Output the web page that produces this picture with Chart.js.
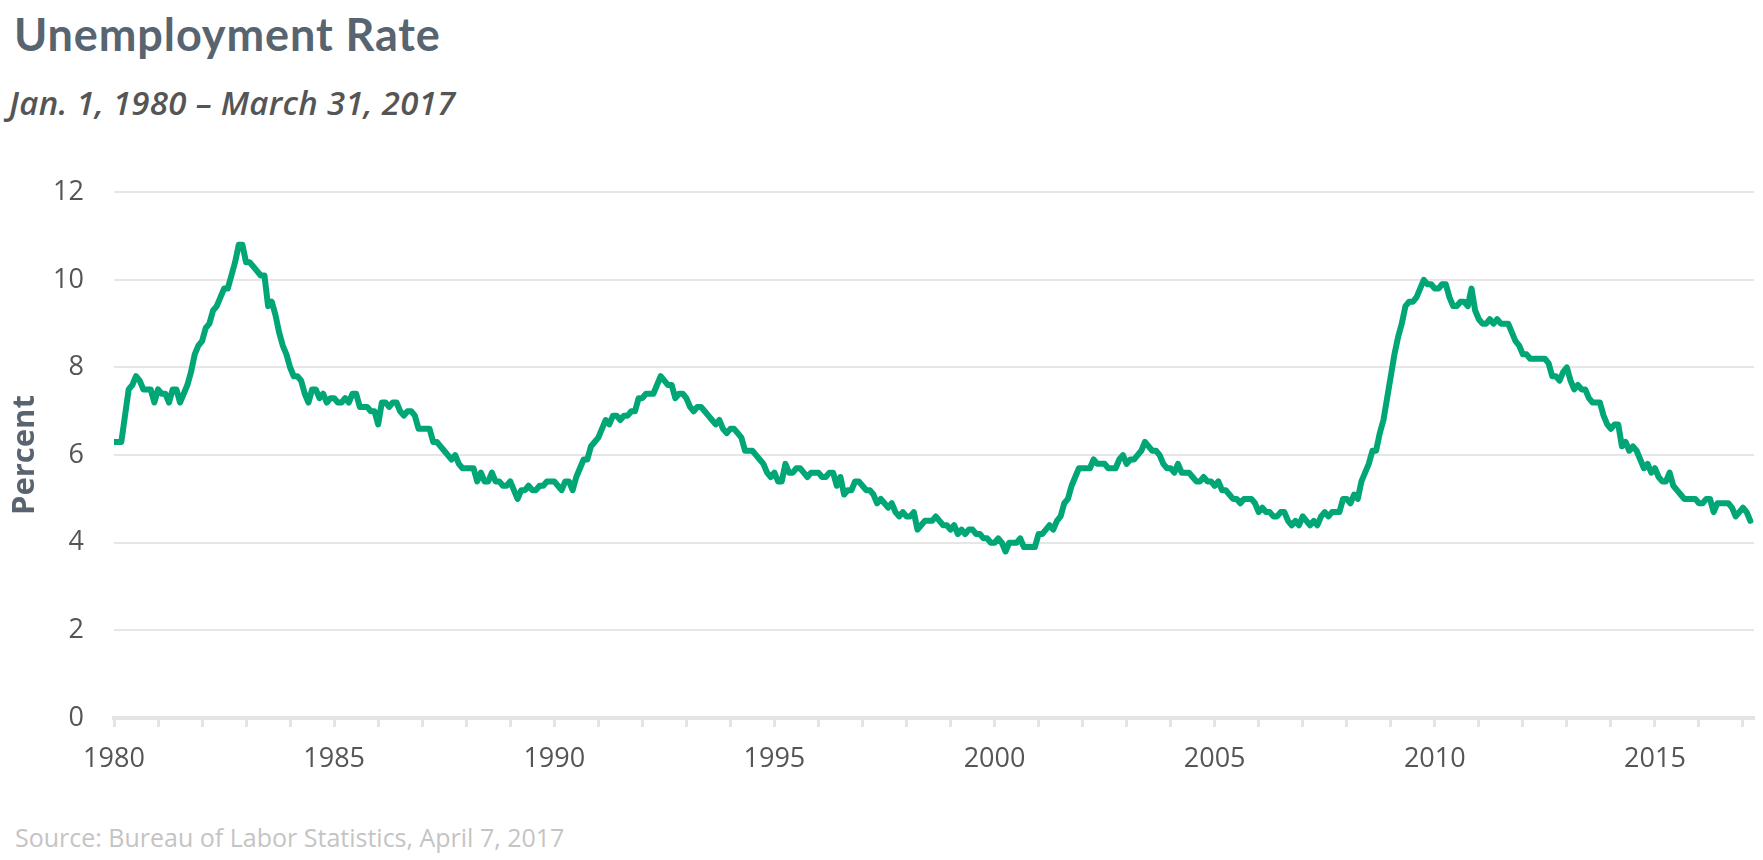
<!DOCTYPE html>
<html lang="en">
<head>
  <meta charset="UTF-8" />
  <title>Unemployment Rate</title>
  <script src="https://cdn.jsdelivr.net/npm/chart.js"></script>
  <style>
    * { margin: 0; padding: 0; box-sizing: border-box; }
    html, body { width: 1763px; height: 860px; background: #fff; overflow: hidden; }
    .title {
      position: absolute; left: 14px; top: 12px;
      font: bold 45px/1 'Lato', sans-serif; color: #58646f;
      letter-spacing: 0.9px; white-space: nowrap;
    }
    .subtitle {
      position: absolute; left: 9px; top: 86px;
      font: italic 600 33px/1 'Open Sans', sans-serif; color: #555;
      letter-spacing: 0.3px; white-space: nowrap;
    }
    .source {
      position: absolute; left: 15px; top: 825px;
      font: 25px/1 'Open Sans', sans-serif; color: #c4c4c4;
      white-space: nowrap;
    }
    .chart-box { position: absolute; left: 0; top: 146px; width: 1763px; height: 654px; }
  </style>
</head>
<body>
  <div class="title">Unemployment Rate</div>
  <div class="subtitle">Jan. 1, 1980 – March 31, 2017</div>
  <div class="chart-box"><canvas id="unrate"></canvas></div>
  <div class="source">Source: Bureau of Labor Statistics, April 7, 2017</div>

<script>
// monthly unemployment rate (%), Jan 1980 onward
const firstYear = 1980;
const rate1980s = [
  6.3, 6.3, 6.3, 6.9, 7.5, 7.6, 7.8, 7.7, 7.5, 7.5, 7.5, 7.2,
  7.5, 7.4, 7.4, 7.2, 7.5, 7.5, 7.2, 7.4, 7.6, 7.9, 8.3, 8.5,
  8.6, 8.9, 9.0, 9.3, 9.4, 9.6, 9.8, 9.8, 10.1, 10.4, 10.8, 10.8,
  10.4, 10.4, 10.3, 10.2, 10.1, 10.1, 9.4, 9.5, 9.2, 8.8, 8.5, 8.3,
  8.0, 7.8, 7.8, 7.7, 7.4, 7.2, 7.5, 7.5, 7.3, 7.4, 7.2, 7.3,
  7.3, 7.2, 7.2, 7.3, 7.2, 7.4, 7.4, 7.1, 7.1, 7.1, 7.0, 7.0,
  6.7, 7.2, 7.2, 7.1, 7.2, 7.2, 7.0, 6.9, 7.0, 7.0, 6.9, 6.6,
  6.6, 6.6, 6.6, 6.3, 6.3, 6.2, 6.1, 6.0, 5.9, 6.0, 5.8, 5.7,
  5.7, 5.7, 5.7, 5.4, 5.6, 5.4, 5.4, 5.6, 5.4, 5.4, 5.3, 5.3,
  5.4, 5.2, 5.0, 5.2, 5.2, 5.3, 5.2, 5.2, 5.3, 5.3, 5.4, 5.4
];
const rate1990s = [
  5.4, 5.3, 5.2, 5.4, 5.4, 5.2, 5.5, 5.7, 5.9, 5.9, 6.2, 6.3,
  6.4, 6.6, 6.8, 6.7, 6.9, 6.9, 6.8, 6.9, 6.9, 7.0, 7.0, 7.3,
  7.3, 7.4, 7.4, 7.4, 7.6, 7.8, 7.7, 7.6, 7.6, 7.3, 7.4, 7.4,
  7.3, 7.1, 7.0, 7.1, 7.1, 7.0, 6.9, 6.8, 6.7, 6.8, 6.6, 6.5,
  6.6, 6.6, 6.5, 6.4, 6.1, 6.1, 6.1, 6.0, 5.9, 5.8, 5.6, 5.5,
  5.6, 5.4, 5.4, 5.8, 5.6, 5.6, 5.7, 5.7, 5.6, 5.5, 5.6, 5.6,
  5.6, 5.5, 5.5, 5.6, 5.6, 5.3, 5.5, 5.1, 5.2, 5.2, 5.4, 5.4,
  5.3, 5.2, 5.2, 5.1, 4.9, 5.0, 4.9, 4.8, 4.9, 4.7, 4.6, 4.7,
  4.6, 4.6, 4.7, 4.3, 4.4, 4.5, 4.5, 4.5, 4.6, 4.5, 4.4, 4.4,
  4.3, 4.4, 4.2, 4.3, 4.2, 4.3, 4.3, 4.2, 4.2, 4.1, 4.1, 4.0
];
const rate2000s = [
  4.0, 4.1, 4.0, 3.8, 4.0, 4.0, 4.0, 4.1, 3.9, 3.9, 3.9, 3.9,
  4.2, 4.2, 4.3, 4.4, 4.3, 4.5, 4.6, 4.9, 5.0, 5.3, 5.5, 5.7,
  5.7, 5.7, 5.7, 5.9, 5.8, 5.8, 5.8, 5.7, 5.7, 5.7, 5.9, 6.0,
  5.8, 5.9, 5.9, 6.0, 6.1, 6.3, 6.2, 6.1, 6.1, 6.0, 5.8, 5.7,
  5.7, 5.6, 5.8, 5.6, 5.6, 5.6, 5.5, 5.4, 5.4, 5.5, 5.4, 5.4,
  5.3, 5.4, 5.2, 5.2, 5.1, 5.0, 5.0, 4.9, 5.0, 5.0, 5.0, 4.9,
  4.7, 4.8, 4.7, 4.7, 4.6, 4.6, 4.7, 4.7, 4.5, 4.4, 4.5, 4.4,
  4.6, 4.5, 4.4, 4.5, 4.4, 4.6, 4.7, 4.6, 4.7, 4.7, 4.7, 5.0,
  5.0, 4.9, 5.1, 5.0, 5.4, 5.6, 5.8, 6.1, 6.1, 6.5, 6.8, 7.3,
  7.8, 8.3, 8.7, 9.0, 9.4, 9.5, 9.5, 9.6, 9.8, 10.0, 9.9, 9.9
];
const rate2010s = [
  9.8, 9.8, 9.9, 9.9, 9.6, 9.4, 9.4, 9.5, 9.5, 9.4, 9.8, 9.3,
  9.1, 9.0, 9.0, 9.1, 9.0, 9.1, 9.0, 9.0, 9.0, 8.8, 8.6, 8.5,
  8.3, 8.3, 8.2, 8.2, 8.2, 8.2, 8.2, 8.1, 7.8, 7.8, 7.7, 7.9,
  8.0, 7.7, 7.5, 7.6, 7.5, 7.5, 7.3, 7.2, 7.2, 7.2, 6.9, 6.7,
  6.6, 6.7, 6.7, 6.2, 6.3, 6.1, 6.2, 6.1, 5.9, 5.7, 5.8, 5.6,
  5.7, 5.5, 5.4, 5.4, 5.6, 5.3, 5.2, 5.1, 5.0, 5.0, 5.0, 5.0,
  4.9, 4.9, 5.0, 5.0, 4.7, 4.9, 4.9, 4.9, 4.9, 4.8, 4.6, 4.7,
  4.8, 4.7, 4.5
];

const tickYears = [1980, 1981, 1982, 1983, 1984, 1985, 1986, 1987, 1988, 1989,
  1990, 1991, 1992, 1993, 1994, 1995, 1996, 1997, 1998, 1999,
  2000, 2001, 2002, 2003, 2004, 2005, 2006, 2007, 2008, 2009,
  2010, 2011, 2012, 2013, 2014, 2015, 2016, 2017];
const labelYears = [1980, 1985, 1990, 1995, 2000, 2005, 2010, 2015];

const rates = rate1980s.concat(rate1990s, rate2000s, rate2010s);
// one point per month, placed at year + month/12
const points = rates.map((v, i) => ({ x: firstYear + i / 12, y: v }));

const tickFont = { family: "'Open Sans', sans-serif", size: 27 };

function drawChart() {
  new Chart(document.getElementById("unrate"), {
    type: "line",
    data: {
      datasets: [{
        data: points,
        borderColor: "#00a676",
        borderWidth: 6,
        pointRadius: 0,
        tension: 0,
        borderJoinStyle: "round",
        borderCapStyle: "round"
      }]
    },
    options: {
      responsive: true,
      maintainAspectRatio: false,
      animation: false,
      layout: { padding: { top: 35, right: 9, left: 0, bottom: 0 } },
      plugins: { legend: { display: false }, tooltip: { enabled: false } },
      scales: {
        x: {
          type: "linear",
          min: 1980,
          max: 2017.25,
          afterBuildTicks: axis => { axis.ticks = tickYears.map(v => ({ value: v })); },
          afterFit: s => { s.height = 82; },
          grid: { drawOnChartArea: false, drawTicks: true, tickLength: 9, tickWidth: 3, tickColor: "#e4e4e4" },
          border: { display: true, width: 4, color: "#e4e4e4" },
          ticks: {
            autoSkip: false, maxRotation: 0, padding: 16,
            color: "#555", font: tickFont,
            callback: v => labelYears.includes(v) ? String(v) : ""
          }
        },
        y: {
          min: 0,
          max: 12,
          afterFit: s => { s.width = 114; },
          grid: { color: "#e6e6e6", lineWidth: 2, drawTicks: false },
          border: { display: false },
          ticks: { stepSize: 2, padding: 30, color: "#555", font: tickFont },
          title: {
            display: true, text: "Percent", color: "#58646f",
            font: { family: "'Open Sans', sans-serif", weight: "bold", size: 31 },
            padding: { top: 7, bottom: 0 }
          }
        }
      }
    }
  });
}

Promise.all([
  document.fonts.load("27px 'Open Sans'"),
  document.fonts.load("bold 31px 'Open Sans'")
]).then(drawChart, drawChart);
</script>
</body>
</html>
